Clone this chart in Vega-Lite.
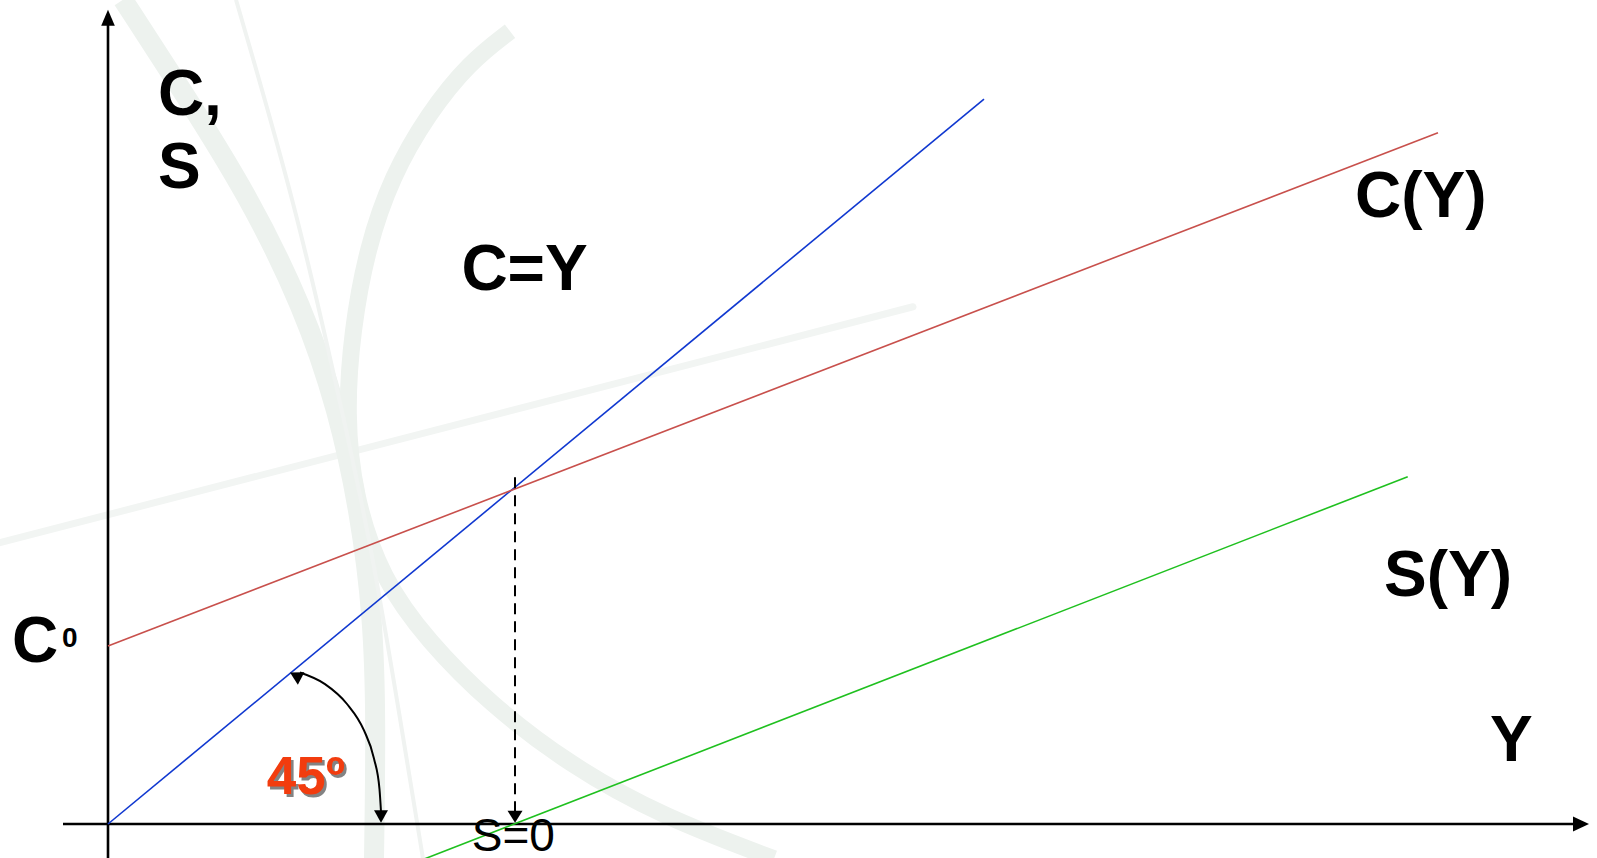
{
  "$schema": "https://vega.github.io/schema/vega-lite/v6.json",
  "width": 1597,
  "height": 858,
  "autosize": {"type": "none"},
  "padding": 0,
  "background": "white",
  "config": {"view": {"stroke": null}},
  "encoding": {
    "x": {"field": "Y", "type": "quantitative", "scale": {"domain": [-10.8, 148.9], "nice": false, "zero": false}, "axis": null},
    "y": {"field": "C", "type": "quantitative", "scale": {"domain": [-4.108, 99.565], "nice": false, "zero": false}, "axis": null}
  },
  "layer": [
    {
      "description": "faint straight band of the slide backdrop",
      "data": {"values": [
        {"Y": -10.8, "C": 34.0, "o": 1},
        {"Y": 80.5, "C": 62.5, "o": 2}
      ]},
      "mark": {"type": "line", "color": "#f2f5f3", "strokeWidth": 7, "strokeCap": "round"},
      "encoding": {"order": {"field": "o", "type": "quantitative"}}
    },
    {
      "description": "backdrop swoosh, left band",
      "data": {"values": [
        {"Y": 1.5, "C": 99.6, "o": 1},
        {"Y": 7.5, "C": 88.5, "o": 2},
        {"Y": 14.0, "C": 76.0, "o": 3},
        {"Y": 19.5, "C": 62.5, "o": 4},
        {"Y": 23.0, "C": 50.0, "o": 5},
        {"Y": 25.2, "C": 37.5, "o": 6},
        {"Y": 26.5, "C": 25.0, "o": 7},
        {"Y": 26.8, "C": 12.5, "o": 8},
        {"Y": 26.6, "C": -4.2, "o": 9}
      ]},
      "mark": {"type": "line", "color": "#edf2ee", "strokeWidth": 20, "interpolate": "basis"},
      "encoding": {"order": {"field": "o", "type": "quantitative"}}
    },
    {
      "description": "backdrop swoosh, large arc",
      "data": {"values": [
        {"Y": 40.2, "C": 95.8, "o": 1},
        {"Y": 36.1, "C": 92.0, "o": 2},
        {"Y": 32.0, "C": 85.8, "o": 3},
        {"Y": 28.4, "C": 78.3, "o": 4},
        {"Y": 25.9, "C": 69.6, "o": 5},
        {"Y": 24.4, "C": 59.6, "o": 6},
        {"Y": 23.8, "C": 49.6, "o": 7},
        {"Y": 24.6, "C": 39.6, "o": 8},
        {"Y": 27.4, "C": 29.6, "o": 9},
        {"Y": 32.0, "C": 22.1, "o": 10},
        {"Y": 38.1, "C": 14.6, "o": 11},
        {"Y": 46.2, "C": 7.1, "o": 12},
        {"Y": 55.4, "C": 0.9, "o": 13},
        {"Y": 66.6, "C": -4.2, "o": 14}
      ]},
      "mark": {"type": "line", "color": "#edf2ee", "strokeWidth": 17, "interpolate": "basis"},
      "encoding": {"order": {"field": "o", "type": "quantitative"}}
    },
    {
      "description": "backdrop swoosh, thin stroke",
      "data": {"values": [
        {"Y": 12.8, "C": 99.6, "o": 1},
        {"Y": 18.8, "C": 74.6, "o": 2},
        {"Y": 23.0, "C": 52.1, "o": 3},
        {"Y": 26.2, "C": 34.6, "o": 4},
        {"Y": 29.3, "C": 12.1, "o": 5},
        {"Y": 31.5, "C": -4.2, "o": 6}
      ]},
      "mark": {"type": "line", "color": "#f0f3f1", "strokeWidth": 4, "interpolate": "basis"},
      "encoding": {"order": {"field": "o", "type": "quantitative"}}
    },
    {
      "description": "horizontal axis",
      "data": {"values": [{"Y": -4.5, "C": 0}, {"Y": 147.0, "C": 0}]},
      "mark": {"type": "line", "color": "black", "strokeWidth": 2.6},
      "encoding": {}
    },
    {
      "description": "vertical axis",
      "data": {"values": [{"Y": 0, "C": -4.3}, {"Y": 0, "C": 97.0}]},
      "mark": {"type": "line", "color": "black", "strokeWidth": 2.6},
      "encoding": {}
    },
    {
      "data": {"values": [{"Y": 148.1, "C": 0}]},
      "mark": {"type": "point", "shape": "M0,0L-2,-0.95L-2,0.95Z", "size": 256, "filled": true, "color": "black", "opacity": 1}
    },
    {
      "data": {"values": [{"Y": 0, "C": 98.4}]},
      "mark": {"type": "point", "shape": "M0,0L-0.85,2L0.85,2Z", "size": 256, "filled": true, "color": "black", "opacity": 1}
    },
    {
      "description": "C = Y, the 45 degree line",
      "data": {"values": [{"Y": 0, "C": 0}, {"Y": 87.6, "C": 87.6}]},
      "mark": {"type": "line", "color": "#1038d0", "strokeWidth": 1.6},
      "encoding": {}
    },
    {
      "description": "consumption function C(Y) = C0 + cY",
      "data": {"values": [{"Y": 0, "C": 21.5}, {"Y": 133.0, "C": 83.53}]},
      "mark": {"type": "line", "color": "#c8504c", "strokeWidth": 1.6},
      "encoding": {}
    },
    {
      "description": "saving function S(Y)",
      "data": {"values": [{"Y": 29.0, "C": -5.46}, {"Y": 129.97, "C": 41.96}]},
      "mark": {"type": "line", "color": "#1fc01f", "strokeWidth": 1.6},
      "encoding": {}
    },
    {
      "description": "drop line from the break-even point",
      "data": {"values": [{"Y": 40.7, "C": 41.9}, {"Y": 40.7, "C": 1.4}]},
      "mark": {"type": "line", "color": "black", "strokeWidth": 2, "strokeDash": [11, 7]},
      "encoding": {}
    },
    {
      "data": {"values": [{"Y": 40.7, "C": 0.15}]},
      "mark": {"type": "point", "shape": "M0,0L-1,-1.6L1,-1.6Z", "size": 225, "filled": true, "color": "black", "opacity": 1}
    },
    {
      "description": "angle marker",
      "data": {"values": [
        {"Y": 19.2, "C": 18.3, "o": 1},
        {"Y": 21.7, "C": 16.9, "o": 2},
        {"Y": 23.9, "C": 14.5, "o": 3},
        {"Y": 25.6, "C": 11.3, "o": 4},
        {"Y": 26.6, "C": 7.9, "o": 5},
        {"Y": 27.15, "C": 4.2, "o": 6},
        {"Y": 27.3, "C": 1.5, "o": 7}
      ]},
      "mark": {"type": "line", "color": "black", "strokeWidth": 2, "interpolate": "monotone"},
      "encoding": {"order": {"field": "o", "type": "quantitative"}}
    },
    {
      "data": {"values": [{"Y": 27.3, "C": 0.15}]},
      "mark": {"type": "point", "shape": "M0,0L-1,-1.8L1,-1.8Z", "size": 196, "filled": true, "color": "black", "opacity": 1}
    },
    {
      "data": {"values": [{"Y": 18.2, "C": 18.3}]},
      "mark": {"type": "point", "shape": "M0,0L-1,-1.8L1,-1.8Z", "size": 196, "angle": 118, "filled": true, "color": "black", "opacity": 1}
    },
    {
      "description": "axis and curve labels",
      "data": {"values": [
        {"Y": 4.99, "C": 85.67, "label": "C,"},
        {"Y": 4.99, "C": 76.9, "label": "S"},
        {"Y": 35.34, "C": 64.49, "label": "C=Y"},
        {"Y": 124.7, "C": 73.3, "label": "C(Y)"},
        {"Y": 127.6, "C": 27.55, "label": "S(Y)"},
        {"Y": 138.2, "C": 7.6, "label": "Y"},
        {"Y": -9.6, "C": 19.6, "label": "C"}
      ]},
      "mark": {"type": "text", "align": "left", "baseline": "alphabetic", "font": "Liberation Sans", "fontWeight": "bold", "fontSize": 64, "color": "black"},
      "encoding": {"text": {"field": "label"}}
    },
    {
      "data": {"values": [{"Y": -4.6, "C": 21.4, "label": "0"}]},
      "mark": {"type": "text", "align": "left", "baseline": "alphabetic", "font": "Liberation Sans", "fontWeight": "bold", "fontSize": 28, "color": "black"},
      "encoding": {"text": {"field": "label"}}
    },
    {
      "data": {"values": [{"Y": 15.88, "C": 3.58, "label": "45º"}]},
      "mark": {"type": "text", "align": "left", "baseline": "alphabetic", "font": "Liberation Sans", "fontWeight": "bold", "fontSize": 53, "color": "#5a5a5a", "dx": 2.5, "dy": 2.5, "opacity": 0.75},
      "encoding": {"text": {"field": "label"}}
    },
    {
      "data": {"values": [{"Y": 15.88, "C": 3.58, "label": "45º"}]},
      "mark": {"type": "text", "align": "left", "baseline": "alphabetic", "font": "Liberation Sans", "fontWeight": "bold", "fontSize": 53, "color": "#f23c0e"},
      "encoding": {"text": {"field": "label"}}
    },
    {
      "data": {"values": [{"Y": 36.37, "C": -3.26, "label": "S=0"}]},
      "mark": {"type": "text", "align": "left", "baseline": "alphabetic", "font": "Liberation Sans", "fontSize": 46, "color": "black"},
      "encoding": {"text": {"field": "label"}}
    }
  ]
}
